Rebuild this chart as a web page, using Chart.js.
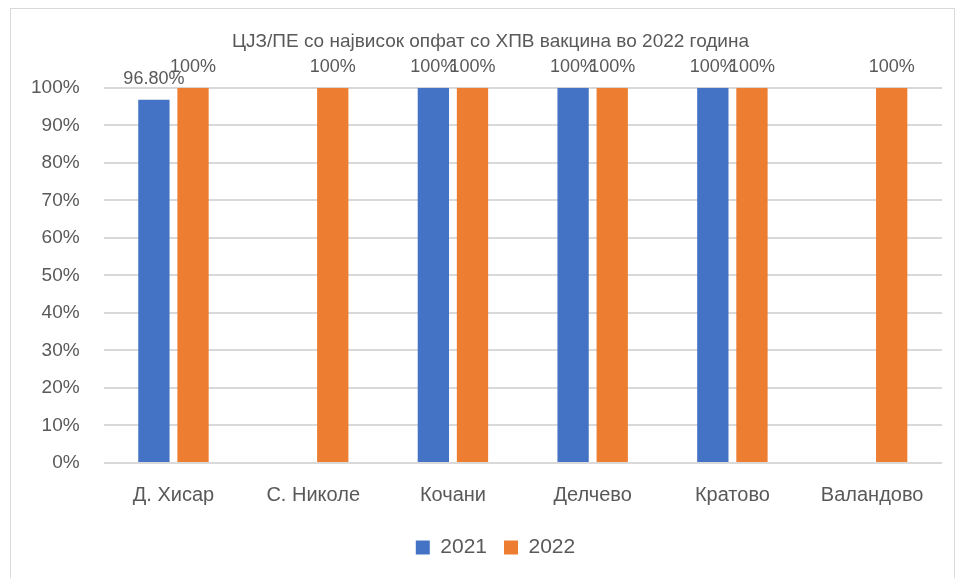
<!DOCTYPE html>
<html>
<head>
<meta charset="utf-8">
<script src="https://cdn.jsdelivr.net/npm/chart.js@4"></script>
<style>
  html, body { margin: 0; padding: 0; background: #fff; }
  #frame {
    position: absolute; left: 10px; top: 8px; width: 945px; height: 580px;
    border: 1px solid #d9d9d9; box-sizing: border-box;
  }
  #wrap { position: absolute; left: 0; top: 0; width: 959px; height: 578px; }
</style>
</head>
<body>
<div id="frame"></div>
<div id="wrap"><canvas id="chart"></canvas></div>
<script>
// Податоци
const kategorii = ['Д. Хисар', 'С. Николе', 'Кочани', 'Делчево', 'Кратово', 'Валандово'];
const vrednosti2021 = [0.968, null, 1, 1, 1, null];
const vrednosti2022 = [1, 1, 1, 1, 1, 1];
const etiketi2021 = ['96.80%', '', '100%', '100%', '100%', ''];
const etiketi2022 = ['100%', '100%', '100%', '100%', '100%', '100%'];
const yTicks = [0, 0.1, 0.2, 0.3, 0.4, 0.5, 0.6, 0.7, 0.8, 0.9, 1];

const FONT = "'Liberation Sans', Arial, sans-serif";
const SIVA = '#595959';

// Етикети над столбовите (без надворешен plugin)
const etiketiPlugin = {
    id: 'etiketi',
    afterDatasetsDraw(chart) {
        const ctx = chart.ctx;
        ctx.save();
        ctx.font = '18px ' + FONT;
        ctx.fillStyle = SIVA;
        ctx.textAlign = 'center';
        ctx.textBaseline = 'alphabetic';
        chart.data.datasets.forEach((ds, i) => {
            const meta = chart.getDatasetMeta(i);
            meta.data.forEach((bar, j) => {
                const tekst = ds.etiketi[j];
                if (!tekst || ds.data[j] == null) return;
                ctx.fillText(tekst, bar.x, bar.y - 16);
            });
        });
        ctx.restore();
    }
};

// Насловот и легендата во оригиналот се малку поместени надесно
const pomestuvanjePlugin = {
    id: 'pomestuvanje',
    afterLayout(chart) {
        if (chart.titleBlock) { chart.titleBlock.left += 16; chart.titleBlock.right += 16; }
        if (chart.legend) { chart.legend.left += 21; chart.legend.right += 21; }
    }
};

new Chart(document.getElementById('chart'), {
    type: 'bar',
    data: {
        labels: kategorii,
        datasets: [
            {
                label: '2021',
                data: vrednosti2021,
                etiketi: etiketi2021,
                backgroundColor: '#4472C4',
                categoryPercentage: 0.56,
                barPercentage: 0.8
            },
            {
                label: '2022',
                data: vrednosti2022,
                etiketi: etiketi2022,
                backgroundColor: '#ED7D31',
                categoryPercentage: 0.56,
                barPercentage: 0.8
            }
        ]
    },
    options: {
        responsive: true,
        maintainAspectRatio: false,
        animation: false,
        layout: { padding: { left: 7, right: 17, top: 30, bottom: 10 } },
        plugins: {
            title: {
                display: true,
                text: 'ЦЈЗ/ПЕ со највисок опфат со ХПВ вакцина во 2022 година',
                color: SIVA,
                font: { family: FONT, size: 19, weight: 'normal' },
                padding: { top: 0, bottom: 35 }
            },
            legend: {
                position: 'bottom',
                labels: {
                    color: SIVA,
                    font: { family: FONT, size: 21 },
                    boxWidth: 14,
                    boxHeight: 14,
                    padding: 17
                }
            },
            tooltip: { enabled: false }
        },
        scales: {
            x: {
                grid: { display: false },
                border: { display: false },
                afterFit: axis => { axis.height += 1; },
                ticks: {
                    color: SIVA,
                    font: { family: FONT, size: 20 },
                    padding: 12
                }
            },
            y: {
                min: 0,
                max: 1,
                afterBuildTicks: axis => { axis.ticks = yTicks.map(v => ({ value: v })); },
                grid: { color: '#d9d9d9', lineWidth: 2, drawTicks: false },
                border: { display: false },
                ticks: {
                    color: SIVA,
                    font: { family: FONT, size: 19 },
                    padding: 24,
                    callback: v => Math.round(v * 100) + '%'
                }
            }
        }
    },
    plugins: [etiketiPlugin, pomestuvanjePlugin]
});
</script>
</body>
</html>
